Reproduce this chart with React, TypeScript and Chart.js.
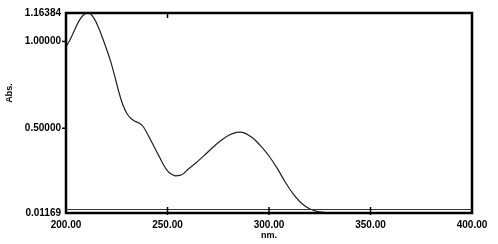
import React, { useEffect, useRef } from "react";
import { Chart, registerables } from "chart.js";

Chart.register(...registerables);

const wavelengths = [200, 202, 204, 206, 208, 210, 211, 212, 214, 216, 218, 220, 222, 224, 226, 228, 230, 232, 234, 236, 238, 240, 242, 244, 246, 248, 250, 252, 254, 256, 258, 260, 264, 268, 272, 276, 280, 284, 286, 288, 290, 292, 294, 296, 298, 300, 304, 308, 312, 316, 320, 324, 328, 335, 340, 350, 360, 370, 380, 390, 400];
const absorbance = [0.97, 1.01, 1.06, 1.11, 1.145, 1.162, 1.1638, 1.16, 1.13, 1.08, 1.02, 0.955, 0.885, 0.8, 0.71, 0.635, 0.585, 0.556, 0.54, 0.53, 0.51, 0.47, 0.425, 0.38, 0.335, 0.29, 0.255, 0.235, 0.226, 0.228, 0.24, 0.262, 0.3, 0.342, 0.386, 0.426, 0.458, 0.476, 0.478, 0.472, 0.46, 0.444, 0.422, 0.397, 0.37, 0.34, 0.27, 0.19, 0.12, 0.068, 0.036, 0.02, 0.014, 0.012, 0.0125, 0.012, 0.0118, 0.0118, 0.0118, 0.0118, 0.0118];
const xTicks = [200, 250, 300, 350, 400];
const yTicks = [0.01169, 0.5, 1.0, 1.16384];
const xTitle = "nm.";
const yTitle = "Abs.";

const FONT = "'Liberation Sans', Arial, sans-serif";

const framePlugin = {
  id: "frame",
  afterDraw(chart: any) {
    const { ctx, chartArea } = chart;
    const { left, right, top, bottom } = chartArea;
    const xs = chart.scales.x;
    const ys = chart.scales.y;
    ctx.save();
    ctx.strokeStyle = "#000";
    ctx.lineWidth = 2.5;
    ctx.strokeRect(left, top, right - left, bottom - top);
    ctx.lineWidth = 1;
    ctx.strokeStyle = "#333";
    ctx.beginPath();
    ctx.moveTo(left, bottom - 3.5);
    ctx.lineTo(right, bottom - 3.5);
    ctx.stroke();
    ctx.lineWidth = 1.5;
    ctx.strokeStyle = "#000";
    [250, 300, 350].forEach((v) => {
      const x = xs.getPixelForValue(v);
      ctx.beginPath();
      ctx.moveTo(x, bottom + 2);
      ctx.lineTo(x, bottom - 6);
      ctx.stroke();
    });
    {
      const x = xs.getPixelForValue(250);
      ctx.beginPath();
      ctx.moveTo(x, top);
      ctx.lineTo(x, top + 5);
      ctx.stroke();
    }
    [0.5, 1.0].forEach((v) => {
      const y = ys.getPixelForValue(v);
      ctx.beginPath();
      ctx.moveTo(left - 4, y);
      ctx.lineTo(left + 1, y);
      ctx.stroke();
    });
    ctx.fillStyle = "#000";
    ctx.font = `bold 9px ${FONT}`;
    ctx.translate(10, 93);
    ctx.rotate(-Math.PI / 2);
    ctx.textAlign = "center";
    ctx.textBaseline = "middle";
    ctx.fillText(yTitle, 0, 0);
    ctx.restore();
  },
};

export default function App() {
  const ref = useRef<HTMLCanvasElement | null>(null);
  useEffect(() => {
    if (!ref.current) return;
    const chart = new Chart(ref.current, {
      type: "line",
      data: {
        datasets: [
          {
            data: wavelengths.map((w, i) => ({ x: w, y: absorbance[i] })),
            borderColor: "#222",
            borderWidth: 1.2,
            pointRadius: 0,
            cubicInterpolationMode: "monotone",
            fill: false,
          },
        ],
      },
      options: {
        animation: false,
        responsive: false,
        maintainAspectRatio: false,
        layout: { padding: { left: 0, top: 13, right: 26, bottom: 0 } },
        plugins: { legend: { display: false }, tooltip: { enabled: false } },
        scales: {
          x: {
            type: "linear",
            min: 200,
            max: 400,
            grid: { display: false, drawTicks: false },
            border: { display: false },
            afterBuildTicks: (s: any) => {
              s.ticks = xTicks.map((v) => ({ value: v }));
            },
            afterFit: (s: any) => {
              s.height = 31;
            },
            ticks: {
              padding: 6,
              color: "#000",
              maxRotation: 0,
              autoSkip: false,
              font: { family: FONT, size: 10, weight: "bold" },
              callback: (v: any) => Number(v).toFixed(2),
            },
            title: {
              display: true,
              text: xTitle,
              color: "#000",
              padding: { top: 0, bottom: 3 },
              font: { family: FONT, size: 9, weight: "bold" },
            },
          },
          y: {
            type: "linear",
            min: 0.01169,
            max: 1.16384,
            grid: { display: false, drawTicks: false },
            border: { display: false },
            afterBuildTicks: (s: any) => {
              s.ticks = yTicks.map((v) => ({ value: v }));
            },
            afterFit: (s: any) => {
              s.width = 66;
            },
            ticks: {
              padding: 5,
              color: "#000",
              autoSkip: false,
              font: { family: FONT, size: 10, weight: "bold" },
              callback: (v: any) => Number(v).toFixed(5),
            },
          },
        },
      },
      plugins: [framePlugin],
    });
    return () => chart.destroy();
  }, []);
  return (
    <div style={{ position: "fixed", left: 0, top: 0, width: 498, height: 244, background: "#fff" }}>
      <canvas ref={ref} width={498} height={244} style={{ width: 498, height: 244 }} />
    </div>
  );
}
